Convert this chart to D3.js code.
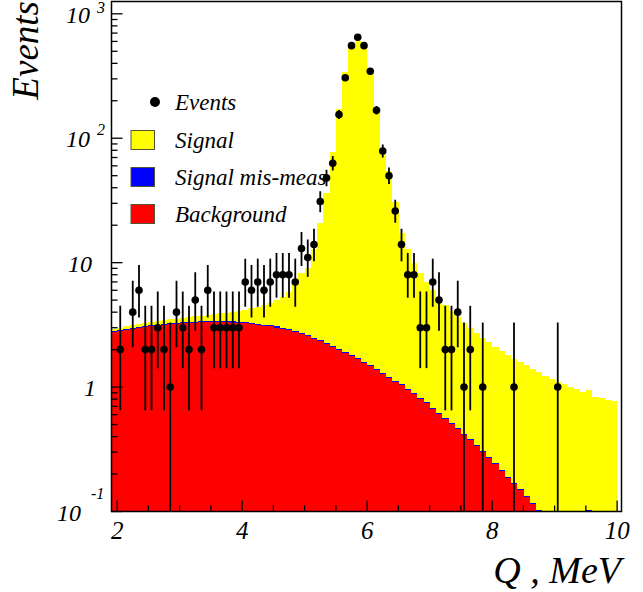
<!DOCTYPE html>
<html><head><meta charset="utf-8">
<script src="https://cdn.jsdelivr.net/npm/d3@7/dist/d3.min.js"></script>
<style>
body{margin:0;background:#fff}
svg{display:block}
text{font-family:"Liberation Serif","Times New Roman",Times,"DejaVu Serif",serif;font-style:italic;fill:#000}
</style>
</head><body>
<svg id="c" width="643" height="592"></svg>
<script>
// ---------------- data ----------------
const binStart = 1.9, binWidth = 0.1;   // 81 bins, 1.9 .. 10.0
const background = [
 2.76,2.82,2.88,2.94,2.99,3.04,3.08,3.12,3.16,3.19,
 3.22,3.25,3.27,3.29,3.31,3.32,3.33,3.33,3.32,3.30,
 3.28,3.25,3.21,3.17,3.12,3.07,3.01,2.95,2.86,2.78,
 2.68,2.56,2.44,2.33,2.22,2.11,2.00,1.88,1.78,1.67,
 1.57,1.47,1.38,1.28,1.19,1.10,1.03,0.95,0.875,0.80,
 0.74,0.67,0.61,0.557,0.508,0.46,0.41,0.373,0.335,0.30,
 0.27,0.24,0.211,0.187,0.167,0.148,0.13,0.114,0.09,0.08,
 0.07,0.06,0.052,0.045,0.04,0.035,0.03,0.026,0.023,0.02,
 0.018];
const misMeasured = [
 0.055,0.056,0.058,0.059,0.06,0.061,0.062,0.062,0.063,0.064,
 0.064,0.065,0.065,0.066,0.066,0.066,0.067,0.067,0.066,0.066,
 0.066,0.065,0.064,0.063,0.062,0.061,0.06,0.059,0.057,0.056,
 0.054,0.051,0.049,0.047,0.044,0.042,0.04,0.038,0.036,0.033,
 0.031,0.029,0.028,0.026,0.024,0.022,0.021,0.019,0.018,0.016,
 0.015,0.013,0.012,0.011,0.01,0.009,0.008,0.0075,0.0067,0.006,
 0.0054,0.0048,0.0042,0.0037,0.0033,0.003,0.0026,0.0023,0.012,0.002,
 0.002,0.002,0.002,0.002,0.002,0.002,0.072,0.002,0.002,0.002,
 0.002];
const signal = [
 0.12,0.13,0.14,0.15,0.16,0.18,0.19,0.21,0.23,0.25,
 0.27,0.29,0.32,0.35,0.38,0.42,0.46,0.51,0.57,0.65,
 0.75,0.88,1.03,1.2,1.4,1.63,1.9,2.3,2.9,4.2,
 5.6,6.4,10.3,18.3,34.3,76,171,337,553,600,
 553,338,172,77,53,29.5,16.3,11.8,9.1,7.5,
 6.2,5.3,4.6,4.0,3.6,3.17,2.85,2.6,2.37,2.18,
 2.01,1.87,1.75,1.62,1.52,1.43,1.36,1.29,1.22,1.15,
 1.10,1.04,1.0,0.96,0.92,0.87,0.84,0.81,0.79,0.77,
 0.75];
const eventQ = [2.05,2.25,2.35,2.45,2.55,2.65,2.75,2.85,2.95,3.05,3.15,3.25,3.35,3.45,3.55,3.65,3.75,3.85,3.95,
 4.05,4.15,4.25,4.35,4.45,4.55,4.65,4.75,4.85,4.95,5.05,5.15,5.25,5.35,5.45,5.55,5.65,5.75,5.85,5.95,
 6.05,6.15,6.25,6.35,6.45,6.55,6.65,6.75,6.85,6.95,7.05,7.15,7.25,7.35,7.45,7.55,7.65,7.85,8.35,9.05];
const eventN = [2,4,6,2,2,3,2,1,4,3,2,5,2,6,3,3,3,3,3,
 7,6,7,6,7,8,8,8,7,13,11,14,31,48,63,155,306,555,649,555,
 345,168,79,50,26,14,8,8,3,3,7,5,2,2,4,1,2,1,1,1];
// 68% Poisson interval bounds read for small counts
const lowBound  = {1:0, 2:0.65, 3:1.42, 4:2.09, 5:2.84, 6:3.62, 7:4.42, 8:5.23};
const highBound = {1:3.3, 2:4.5, 3:5.87, 4:7.16, 5:8.38, 6:9.58, 7:10.77, 8:11.95};
const xTickLabels = [2,4,6,8,10];
const legendItems = [
  {label:"Events", type:"marker"},
  {label:"Signal", type:"box", color:"#ffff00"},
  {label:"Signal mis-meas", type:"box", color:"#0000ff"},
  {label:"Background", type:"box", color:"#ff0000"}
];

// ---------------- layout ----------------
const L = 111.5, R = 621.5, T = 1.5, B = 511.5;
const x = d3.scaleLinear().domain([1.91, 10.07]).range([L, R]);
const y = d3.scaleLog().domain([0.1, 1256]).range([B, T]);
const svg = d3.select("#c");

svg.append("defs").append("clipPath").attr("id","plot")
  .append("rect").attr("x",L).attr("y",T).attr("width",R-L).attr("height",B-T);

// legend (drawn before the data)
const lg = svg.append("g");
legendItems.forEach((d,i)=>{
  const cy = [102,140,177,214][i];
  if(d.type==="marker"){
    lg.append("circle").attr("cx",155).attr("cy",cy).attr("r",5).attr("fill","#000");
  } else {
    lg.append("rect").attr("x",131).attr("y",cy-9.5).attr("width",23.5).attr("height",19)
      .attr("fill",d.color).attr("stroke","#555533").attr("stroke-width",1);
  }
  lg.append("text").attr("x",175).attr("y",cy+8).attr("font-size",23).text(d.label);
});

// stacked histogram
const bins = background.map((b,i)=>({
  x0: binStart + i*binWidth, x1: binStart + (i+1)*binWidth,
  bg: b, mm: b + misMeasured[i], tot: b + misMeasured[i] + signal[i]
}));
const hg = svg.append("g").attr("clip-path","url(#plot)").attr("shape-rendering","crispEdges");
const layers = [["tot","#ffff00"],["mm","#0000ff"],["bg","#ff0000"]];
layers.forEach(([k,c])=>{
  hg.selectAll(null).data(bins.filter(d=>d[k]>0.1)).enter().append("rect")
    .attr("x",d=>x(d.x0)).attr("width",d=>x(d.x1)-x(d.x0)+0.3)
    .attr("y",d=>y(d[k])).attr("height",d=>B-y(d[k]))
    .attr("fill",c);
});

// data points with error bars
const pts = eventQ.map((q,i)=>{
  const n = eventN[i];
  const lo = lowBound[n]!==undefined ? lowBound[n] : n-Math.sqrt(n);
  const hi = highBound[n]!==undefined ? highBound[n] : n+Math.sqrt(n)+1;
  return {q,n,lo,hi};
});
const pg = svg.append("g").attr("clip-path","url(#plot)");
pg.selectAll(null).data(pts).enter().append("line")
  .attr("x1",d=>x(d.q)).attr("x2",d=>x(d.q))
  .attr("y1",d=>y(d.hi)).attr("y2",d=>d.lo>0.1?y(d.lo):B)
  .attr("stroke","#000").attr("stroke-width",1.8);
pg.selectAll(null).data(pts).enter().append("circle")
  .attr("cx",d=>x(d.q)).attr("cy",d=>y(d.n)).attr("r",3.8).attr("fill","#000");

// axes: ticks
const ax = svg.append("g").attr("stroke","#000").attr("stroke-width",1.3);
d3.range(2,10.01,0.5).forEach(v=>{
  const major = Math.abs(v-Math.round(v/2)*2)<1e-6;
  ax.append("line").attr("x1",x(v)).attr("x2",x(v)).attr("y1",B).attr("y2",B-(major?11:6));
});
const yMinor = [];
[0.1,1,10,100,1000].forEach(dec=>{ for(let m=1;m<10;m++){ const v=dec*m; if(v<=1256) yMinor.push({v,major:m===1}); }});
yMinor.forEach(d=>{
  ax.append("line").attr("x1",L).attr("x2",L+(d.major?11:6)).attr("y1",y(d.v)).attr("y2",y(d.v));
});
// frame
svg.append("rect").attr("x",L).attr("y",T).attr("width",R-L).attr("height",B-T)
  .attr("fill","none").attr("stroke","#000").attr("stroke-width",1.5);

// x tick labels
xTickLabels.forEach(v=>{
  svg.append("text").attr("x",x(v)).attr("y",539).attr("text-anchor","middle")
    .attr("font-size",25).text(v);
});
// y tick labels
const yLab = [
  {v:1000, base:"10", sup:"3", bx:90, sx:97, sdy:-10},
  {v:100,  base:"10", sup:"2", bx:90, sx:97, sdy:-12},
  {v:10,   base:"10", sup:"",  bx:92},
  {v:1,    base:"1",  sup:"",  bx:96},
  {v:0.1,  base:"10", sup:"-1",bx:81, sx:91, sdy:-22}
];
yLab.forEach(d=>{
  const by = y(d.v)+9;
  svg.append("text").attr("x",d.bx).attr("y",by).attr("text-anchor","end").attr("font-size",24).text(d.base);
  if(d.sup) svg.append("text").attr("x",d.sx).attr("y",by+d.sdy).attr("font-size",16).text(d.sup);
});

// axis titles
svg.append("text").attr("x",621).attr("y",583).attr("text-anchor","end").attr("font-size",38).text("Q , MeV");
svg.append("text").attr("transform","translate(38,1) rotate(-90)").attr("text-anchor","end")
  .attr("font-size",37).text("Events");
</script>
</body></html>
